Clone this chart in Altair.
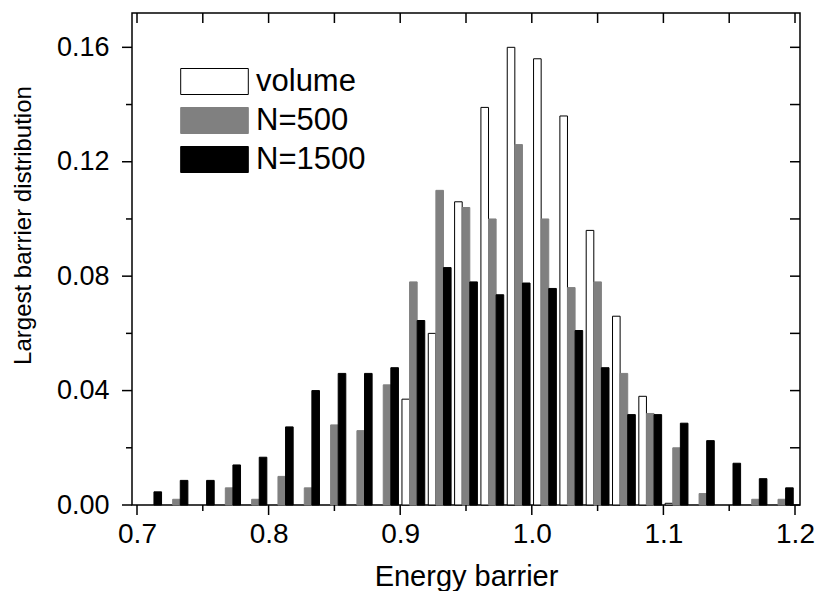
import altair as alt
import pandas as pd

# Bin centres (energy barrier) and the three distributions
centers = [0.71, 0.73, 0.75, 0.77, 0.79, 0.81, 0.83, 0.85, 0.87, 0.89,
           0.91, 0.93, 0.95, 0.97, 0.99, 1.01, 1.03, 1.05, 1.07, 1.09,
           1.11, 1.13, 1.15, 1.17, 1.19]
volume = [0, 0, 0, 0, 0, 0, 0, 0, 0, 0,
          0.037, 0.060, 0.106, 0.139, 0.160, 0.156, 0.136, 0.096, 0.066, 0.038,
          0.0006, 0, 0, 0, 0]
n500 = [0, 0.002, 0, 0.006, 0.002, 0.010, 0.006, 0.028, 0.026, 0.042,
        0.078, 0.110, 0.104, 0.100, 0.126, 0.100, 0.076, 0.078, 0.046, 0.032,
        0.020, 0.004, 0, 0.002, 0.002]
n1500 = [0.0046, 0.0086, 0.0086, 0.014, 0.0167, 0.0273, 0.040, 0.046, 0.046, 0.048,
         0.0645, 0.083, 0.078, 0.0735, 0.0776, 0.0757, 0.061, 0.048, 0.0316, 0.0316,
         0.0286, 0.0225, 0.0146, 0.0092, 0.006]

series_names = ["volume", "N=500", "N=1500"]
fills = ["white", "#808080", "black"]
strokes = ["black", "#808080", "black"]

x_major = [0.7, 0.8, 0.9, 1.0, 1.1, 1.2]
x_minor = [0.75, 0.85, 0.95, 1.05, 1.15]
y_major = [0.0, 0.04, 0.08, 0.12, 0.16]
y_minor = [0.02, 0.06, 0.10, 0.14]

rows = []
for name, vals in zip(series_names, [volume, n500, n1500]):
    for c, v in zip(centers, vals):
        rows.append({"center": c, "series": name, "value": v})
df = pd.DataFrame(rows)

W, H = 668, 492
xscale = alt.Scale(domain=[0.7, 1.2], nice=False, zero=False)
yscale = alt.Scale(domain=[0, 0.172], nice=False)
BW = 7.6

legend = alt.Legend(title=None, orient="none", legendX=67, legendY=53)
fill_enc = alt.Fill("series:N", scale=alt.Scale(domain=series_names, range=fills),
                    legend=legend)
stroke_enc = alt.Stroke("series:N", scale=alt.Scale(domain=series_names, range=strokes),
                        legend=legend)

def bar_layer(name, offset):
    return alt.Chart(df).transform_filter(
        (alt.datum.series == name) & (alt.datum.value > 0)
    ).mark_bar(width=BW, xOffset=offset, strokeWidth=1).encode(
        x=alt.X("center:Q", scale=xscale,
                axis=alt.Axis(values=x_major, format=".1f", title="Energy barrier",
                              domain=False, ticks=False, grid=False,
                              labelFontSize=28, labelPadding=15, titleFontSize=29,
                              titlePadding=14, titleFontWeight="normal",
                              labelFont="Liberation Sans", titleFont="Liberation Sans",
                              labelColor="black", titleColor="black")),
        y=alt.Y("value:Q", scale=yscale,
                axis=alt.Axis(values=y_major, format=".2f",
                              title="Largest barrier distribution",
                              domain=False, ticks=False, grid=False,
                              labelFontSize=27, labelPadding=23, titleFontSize=24,
                              titleX=-97, titleY=212, titleFontWeight="normal",
                              labelFont="Liberation Sans", titleFont="Liberation Sans",
                              labelColor="black", titleColor="black")),
        fill=fill_enc,
        stroke=stroke_enc,
    )

bars = alt.layer(
    bar_layer("volume", -BW),
    bar_layer("N=500", 0),
    bar_layer("N=1500", BW),
)

xt_major = pd.DataFrame({"v": x_major})
xt_minor = pd.DataFrame({"v": x_minor})
yt_major = pd.DataFrame({"v": y_major})
yt_minor = pd.DataFrame({"v": y_minor})

def xticks(data, y1, y2):
    return alt.Chart(data).mark_rule(color="black", strokeWidth=1.5).encode(
        x=alt.X("v:Q", scale=xscale), y=alt.value(y1), y2=alt.value(y2))

def yticks(data, x1, x2):
    return alt.Chart(data).mark_rule(color="black", strokeWidth=1.5).encode(
        y=alt.Y("v:Q", scale=yscale), x=alt.value(x1), x2=alt.value(x2))

ticks = alt.layer(
    xticks(xt_major, H, H + 10), xticks(xt_minor, H, H + 6),
    xticks(xt_major, 0, 10), xticks(xt_minor, 0, 10),
    yticks(yt_major, 0, -10), yticks(yt_minor, 0, -6),
    yticks(yt_major, W, W - 10), yticks(yt_minor, W, W - 10),
)

chart = alt.layer(bars, ticks).properties(
    width=W, height=H,
    background="white",
    autosize=alt.AutoSizeParams(type="none"),
    padding={"left": 124, "top": 5, "right": 17, "bottom": 86},
).configure_view(
    stroke="black", strokeWidth=1.5
).configure_legend(
    symbolType="M-2.6,-1H2.6V1H-2.6Z",
    symbolSize=676,
    symbolStrokeWidth=1,
    labelFontSize=31,
    labelFont="Liberation Sans",
    labelColor="black",
    labelOffset=26,
    rowPadding=7,
    padding=0,
)

chart.save("out.html", embed_options={"renderer": "svg", "actions": False})
